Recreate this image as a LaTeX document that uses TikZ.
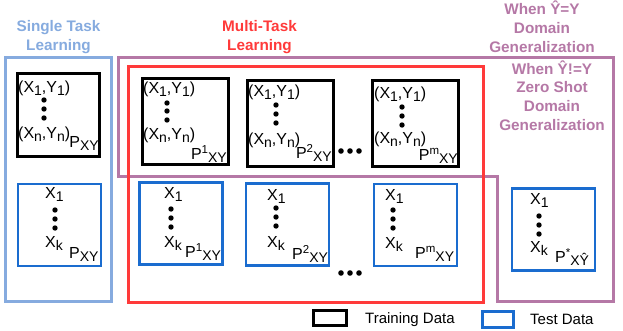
\documentclass[tikz,border=0pt]{standalone}
\usepackage{fontspec}
\setmainfont{Liberation Sans}
\usepackage{tikz}
\usetikzlibrary{positioning}
\definecolor{stlblue}{HTML}{86ABDF}
\definecolor{testblue}{HTML}{1A6CCF}
\definecolor{mtlred}{HTML}{FF3A3A}
\definecolor{dgpurple}{HTML}{B578A6}

\newcommand{\dnsub}[1]{\raisebox{-3.5pt}{\fontsize{14}{14}\selectfont #1}}
\newcommand{\upsup}[1]{\raisebox{5.5pt}{\fontsize{11.5}{11.5}\selectfont #1}}

\begin{document}
\begin{tikzpicture}[x=1pt, y=-1pt,
  region/.style={draw, line width=3pt, inner sep=0pt, outer sep=0pt},
  trainbox/.style={draw=black, line width=3pt, minimum width=86pt, minimum height=86pt, inner sep=0pt, outer sep=0pt},
  testbox/.style={draw=testblue, line width=2.6pt, minimum width=83pt, minimum height=82pt, inner sep=0pt, outer sep=0pt},
  heading/.style={font=\bfseries\fontsize{15.3}{18.6}\selectfont, align=center, anchor=base, inner sep=0pt},
  item/.style={font=\fontsize{16}{16}\selectfont, anchor=base west, inner sep=0pt},
  prob/.style={font=\fontsize{16}{16}\selectfont, anchor=base east, inner sep=0pt},
  legend/.style={font=\fontsize{15}{15}\selectfont, anchor=base west, inner sep=0pt}
]
  \useasboundingbox (0,0) rectangle (623,330);

  % outer regions
  \draw[dgpurple, line width=3pt] (118,57) -- (613,57) -- (613,301) -- (497,301)
    -- (497,176) -- (118,176) -- cycle;
  \node[region, draw=stlblue, minimum width=106pt, minimum height=244pt] (stl) at (58,179) {};
  \node[region, draw=mtlred, minimum width=355pt, minimum height=236pt] (mtl) at (305.5,184) {};

  % headings (anchored at the baseline of the last line)
  \node[heading, text=stlblue] (stltitle) at (58.5,50) {Single Task\\Learning};
  \node[heading, text=mtlred] (mtltitle) at (259.5,50) {Multi-Task\\Learning};
  \node[heading, text=dgpurple] (dgtitle) at (542,52) {When Ŷ=Y\\Domain\\Generalization};
  \node[heading, text=dgpurple] (zstitle) at (552,130) {When Ŷ!=Y\\Zero Shot\\Domain\\Generalization};

  % training data boxes
  \node[trainbox, minimum width=82pt, minimum height=83pt] (trs) at (58,114.5) {};
  \node[trainbox] (tr1) at (185,121.5) {};
  \node[trainbox] (tr2) at (290,123) {};
  \node[trainbox] (trm) at (415.5,123) {};

  \node[item] (trs1) at (18,92) {(X\dnsub{1},Y\dnsub{1})};
  \node[item] (trsn) at (18,138) {(X\dnsub{n},Y\dnsub{n})};
  \node[prob] (trsp) at (99,147) {P\dnsub{XY}};
  \foreach \y in {100,109,118} \fill (44,\y) circle (2.7pt);

  \node[item] (tr11) at (143,93) {(X\dnsub{1},Y\dnsub{1})};
  \node[item] (tr1n) at (143,139) {(X\dnsub{n},Y\dnsub{n})};
  \node[prob] (tr1p) at (227,159) {P\upsup{1}\dnsub{XY}};
  \foreach \y in {103,111,120} \fill (167,\y) circle (2.7pt);

  \node[item] (tr21) at (248,96) {(X\dnsub{1},Y\dnsub{1})};
  \node[item] (tr2n) at (248,144) {(X\dnsub{n},Y\dnsub{n})};
  \node[prob] (tr2p) at (332,158) {P\upsup{2}\dnsub{XY}};
  \foreach \y in {105,114,123} \fill (276,\y) circle (2.7pt);

  \node[item] (trm1) at (374,98) {(X\dnsub{1},Y\dnsub{1})};
  \node[item] (trmn) at (374,143) {(X\dnsub{n},Y\dnsub{n})};
  \node[prob] (trmp) at (458,160) {P\upsup{m}\dnsub{XY}};
  \foreach \y in {107,116,125} \fill (402,\y) circle (2.7pt);

  % test data boxes
  \node[testbox] (tes) at (59.5,225) {};
  \node[testbox] (te1) at (181,223.5) {};
  \node[testbox] (te2) at (287.5,224.5) {};
  \node[testbox] (tem) at (415.5,225) {};
  \node[testbox] (tez) at (553.5,229.5) {};

  \node[item] (tes1) at (45,198) {X\dnsub{1}};
  \node[item] (tesk) at (45,247) {X\dnsub{k}};
  \node[item] (tesp) at (69,258) {P\dnsub{XY}};
  \foreach \y in {210,219,228} \fill (55,\y) circle (2.7pt);

  \node[item] (te11) at (164,198) {X\dnsub{1}};
  \node[item] (te1k) at (164,247) {X\dnsub{k}};
  \node[item] (te1p) at (185,257) {P\upsup{1}\dnsub{XY}};
  \foreach \y in {209,218,227} \fill (171,\y) circle (2.7pt);

  \node[item] (te21) at (267,200) {X\dnsub{1}};
  \node[item] (te2k) at (267,247) {X\dnsub{k}};
  \node[item] (te2p) at (292,259) {P\upsup{2}\dnsub{XY}};
  \foreach \y in {208,217,226} \fill (276,\y) circle (2.7pt);

  \node[item] (tem1) at (385,200) {X\dnsub{1}};
  \node[item] (temk) at (385,248) {X\dnsub{k}};
  \node[item] (temp) at (415,258) {P\upsup{m}\dnsub{XY}};
  \foreach \y in {210,219,228} \fill (393,\y) circle (2.7pt);

  \node[item] (tez1) at (530,204) {X\dnsub{1}};
  \node[item] (tezk) at (530,252) {X\dnsub{k}};
  \node[item] (tezp) at (555,262) {P\upsup{*}\dnsub{XŶ}};
  \foreach \y in {216,225,234} \fill (539,\y) circle (2.7pt);

  % dots between tasks
  \foreach \x in {341,350,359} {
    \fill (\x,151) circle (2.8pt);
    \fill (\x,273) circle (2.8pt);
  }

  % legend
  \node[draw=black, line width=3pt, minimum width=33pt, minimum height=15pt, inner sep=0pt] (keytrain) at (329.5,318) {};
  \node[legend] (traintxt) at (365,323) {Training Data};
  \node[draw=testblue, line width=3pt, minimum width=31pt, minimum height=16pt, inner sep=0pt] (keytest) at (497.5,319) {};
  \node[legend] (testtxt) at (530,324) {Test Data};
\end{tikzpicture}
\end{document}
